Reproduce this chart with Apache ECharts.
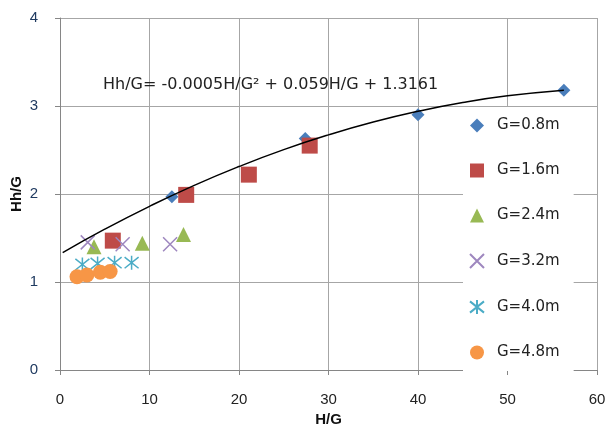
<!DOCTYPE html>
<html>
<head>
<meta charset="utf-8">
<script src="https://cdn.jsdelivr.net/npm/echarts@6/dist/echarts.min.js"></script>
<style>
  html, body { margin: 0; padding: 0; background: #fff; }
  #chart-container { width: 609px; height: 428px; }
</style>
</head>
<body>
<div id="chart-container"></div>
<script>
var dom = document.getElementById("chart-container");
var myChart = echarts.init(dom, null, { renderer: "canvas" });

// measured points, [H/G, Hh/G]
var g08 = [[12.5, 1.97], [27.4, 2.63], [40.0, 2.90], [56.3, 3.18]];
var g16 = [[5.9, 1.47], [14.1, 1.99], [21.1, 2.22], [27.9, 2.55]];
var g24 = [[3.8, 1.40], [9.2, 1.44], [13.8, 1.54]];
var g32 = [[3.1, 1.45], [7.0, 1.43], [12.3, 1.43]];
var g40 = [[2.5, 1.20], [4.2, 1.21], [6.1, 1.22], [8.0, 1.22]];
var g48 = [[1.9, 1.06], [3.0, 1.08], [4.5, 1.11], [5.6, 1.12]];

// trend line
var trendX = [0.3, 5, 10, 15, 20, 25, 30, 35, 40, 45, 50, 56.3];
var trendY = [1.334, 1.600, 1.860, 2.098, 2.312, 2.504, 2.672, 2.818, 2.940, 3.040, 3.116, 3.18];

var names = ["G=0.8m", "G=1.6m", "G=2.4m", "G=3.2m", "G=4.0m", "G=4.8m"];
var equation = "Hh/G= -0.0005H/G\u00b2 + 0.059H/G + 1.3161";

var crossPath = "path://M0,0L10,10M10,0L0,10";
var starPath = "path://M5,0L5,10M0,1L10,9M10,1L0,9";

var font = "Liberation Sans, Arial, sans-serif";
var wideFont = "DejaVu Sans, sans-serif";

var option = {
  animation: false,
  textStyle: { fontFamily: font },
  grid: { left: 60, right: 12, top: 18, bottom: 58, outerBoundsMode: "none", containLabel: false },
  xAxis: {
    type: "value",
    min: 0,
    max: 60,
    interval: 10,
    name: "H/G",
    nameLocation: "middle",
    nameGap: 42,
    nameTextStyle: { fontSize: 15, fontWeight: "bold", color: "#111" },
    axisLine: { lineStyle: { color: "#868686" } },
    axisTick: { show: true, length: 5, lineStyle: { color: "#868686" } },
    axisLabel: { fontSize: 15, color: "#222", margin: 22 },
    splitLine: { lineStyle: { color: "#a6a6a6" } }
  },
  yAxis: {
    type: "value",
    min: 0,
    max: 4,
    interval: 1,
    name: "Hh/G",
    nameLocation: "middle",
    nameGap: 36,
    nameMoveOverlap: false,
    nameTextStyle: { fontSize: 15, fontWeight: "bold", color: "#111" },
    axisLine: { show: true, lineStyle: { color: "#868686" } },
    axisTick: { show: true, length: 5, lineStyle: { color: "#868686" } },
    axisLabel: { fontSize: 15, color: "#1f3a60", margin: 22 },
    splitLine: { lineStyle: { color: "#a6a6a6" } }
  },
  legend: {
    data: names,
    orient: "vertical",
    left: 463,
    top: 107,
    padding: [11, 14, 11, 6],
    backgroundColor: "#fff",
    itemWidth: 14,
    itemHeight: 14,
    itemGap: 30,
    textStyle: {
      fontSize: 15, lineHeight: 14, color: "#222", fontFamily: wideFont,
      padding: [0, 0, 0, 8]
    }
  },
  graphic: [
    {
      type: "text",
      left: 103,
      top: 77,
      z: 100,
      style: { text: equation, font: "16px " + wideFont, fill: "#222" }
    }
  ],
  series: [
    {
      name: names[0], type: "scatter", data: g08,
      symbol: "diamond", symbolSize: 13,
      itemStyle: { color: "#4a7ebb", opacity: 1 }
    },
    {
      name: names[1], type: "scatter", data: g16,
      symbol: "rect", symbolSize: 16,
      itemStyle: { color: "#be4b48", opacity: 1 }
    },
    {
      name: names[2], type: "scatter", data: g24,
      symbol: "triangle", symbolSize: 15,
      itemStyle: { color: "#98b954", opacity: 1 }
    },
    {
      name: names[3], type: "scatter", data: g32,
      symbol: crossPath, symbolSize: 14,
      itemStyle: { color: "transparent", borderColor: "#9e87bf", borderWidth: 1.5, opacity: 1 }
    },
    {
      name: names[4], type: "scatter", data: g40,
      symbol: starPath, symbolSize: 14,
      itemStyle: { color: "transparent", borderColor: "#4bacc6", borderWidth: 1.5, opacity: 1 }
    },
    {
      name: names[5], type: "scatter", data: g48,
      symbol: "circle", symbolSize: 15,
      itemStyle: { color: "#f79646", opacity: 1 }
    },
    {
      name: "trend", type: "line", z: 10,
      data: trendX.map(function (x, i) { return [x, trendY[i]]; }),
      smooth: true, showSymbol: false, silent: true,
      lineStyle: { color: "#000", width: 1.5 }
    }
  ]
};

myChart.setOption(option);
window.addEventListener("resize", myChart.resize);
</script>
</body>
</html>
